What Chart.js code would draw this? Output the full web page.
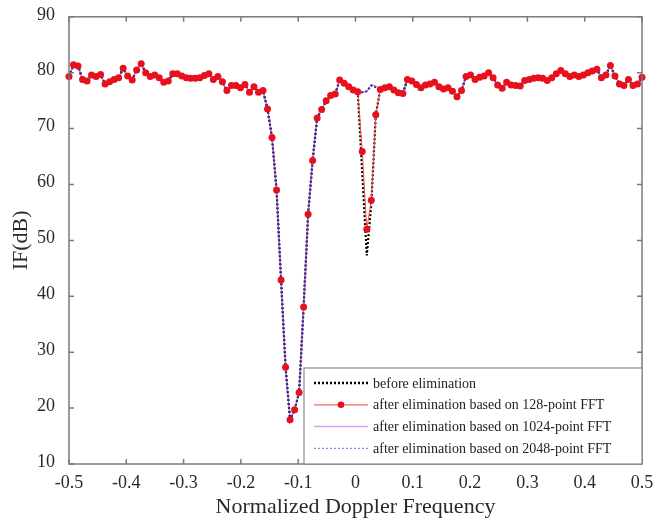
<!DOCTYPE html>
<html>
<head>
<meta charset="utf-8">
<script src="https://cdn.jsdelivr.net/npm/chart.js@4.4.1/dist/chart.umd.min.js"></script>
<style>
html, body { margin: 0; padding: 0; background: #fff; }
</style>
</head>
<body>
<canvas id="c" width="658" height="520"></canvas>
<script>
// 128 FFT bins across the normalized Doppler band
const N = 128;
const freq = Array.from({ length: N }, (_, i) => -0.5 + i / (N - 1));

// IF(dB) after elimination, 128-point FFT
const if128 = [
  79.3, 81.4, 81.2, 78.8, 78.5, 79.6, 79.3, 79.7, 78.0, 78.4,
  78.8, 79.1, 80.8, 79.4, 78.7, 80.5, 81.6, 80.0, 79.3, 79.6,
  79.1, 78.3, 78.5, 79.8, 79.8, 79.4, 79.1, 79.0, 79.0, 79.1,
  79.5, 79.8, 78.8, 79.3, 78.4, 76.8, 77.7, 77.7, 77.3, 77.9,
  76.5, 77.5, 76.5, 76.8, 73.5, 68.4, 59.0, 42.9, 27.3, 17.9,
  19.7, 22.8, 38.1, 54.7, 64.3, 71.9, 73.4, 75.0, 75.9, 76.2,
  78.7, 78.1, 77.5, 76.9, 76.6, 65.9, 52.0, 57.2, 72.5, 77.0,
  77.3, 77.5, 76.9, 76.4, 76.3, 78.8, 78.5, 77.9, 77.3, 77.8,
  78.0, 78.3, 77.5, 77.1, 77.3, 76.7, 75.7, 76.8, 79.3, 79.6,
  78.8, 79.2, 79.4, 80.0, 79.1, 77.8, 77.2, 78.3, 77.8, 77.7,
  77.6, 78.6, 78.8, 79.0, 79.1, 79.0, 78.6, 79.1, 79.8, 80.4,
  79.8, 79.3, 79.6, 79.3, 79.6, 80.0, 80.3, 80.6, 79.1, 79.6,
  81.3, 79.4, 78.0, 77.7, 78.8, 77.7, 78.0, 79.2
];

// the curves only differ around the small notch near 0.02
const notchIdx = [65, 66, 67, 68];
const beforeNotch = [62.0, 47.3, 56.5, 72.5];
const if1024Notch = [76.5, 76.6, 77.9, 77.6];
const if2048Notch = [76.5, 76.7, 77.7, 77.4];

const xTicks = [-0.5, -0.4, -0.3, -0.2, -0.1, 0, 0.1, 0.2, 0.3, 0.4, 0.5];
const yTicks = [10, 20, 30, 40, 50, 60, 70, 80, 90];
const legendLabels = [
  'before elimination',
  'after elimination based on 128-point FFT',
  'after elimination based on 1024-point FFT',
  'after elimination based on 2048-point FFT'
];

function withNotch(vals) {
  const out = if128.slice();
  notchIdx.forEach((k, j) => { out[k] = vals[j]; });
  return freq.map((f, i) => ({ x: f, y: out[i] }));
}
const pts128 = freq.map((f, i) => ({ x: f, y: if128[i] }));

const SERIF = '"Liberation Serif", "Times New Roman", serif';

const styles = [
  { color: '#000000', width: 2.2, dash: [2, 2], legendColor: '#000000', legendWidth: 2.5 },
  { color: '#f04848', width: 1, dash: [], marker: '#e8101c', legendColor: '#f06a6a', legendWidth: 1.2 },
  { color: '#c070f0', width: 1, dash: [], legendColor: '#d8a0f0', legendWidth: 1.5 },
  { color: '#2c2c96', width: 2, dash: [2, 2], legendColor: '#8c8ce8', legendWidth: 1.2 }
];

const framePlugin = {
  id: 'frame',
  afterDatasetsDraw(chart) {
    const { ctx, chartArea: a, scales: { x, y } } = chart;
    ctx.save();
    ctx.strokeStyle = '#7a7a7a';
    ctx.lineWidth = 1.5;
    ctx.strokeRect(a.left, a.top, a.right - a.left, a.bottom - a.top);
    ctx.beginPath();
    xTicks.forEach(v => {
      const px = x.getPixelForValue(v);
      ctx.moveTo(px, a.bottom); ctx.lineTo(px, a.bottom - 5);
      ctx.moveTo(px, a.top); ctx.lineTo(px, a.top + 5);
    });
    yTicks.forEach(v => {
      const py = y.getPixelForValue(v);
      ctx.moveTo(a.left, py); ctx.lineTo(a.left + 5, py);
      ctx.moveTo(a.right, py); ctx.lineTo(a.right - 5, py);
    });
    ctx.stroke();

    // legend box, bottom right inside the axes
    const w = 338, h = 96;
    const lx = a.right - w, ly = a.bottom - h;
    ctx.fillStyle = '#fff';
    ctx.fillRect(lx, ly, w, h);
    ctx.strokeStyle = '#8a8a8a';
    ctx.lineWidth = 1.2;
    ctx.strokeRect(lx, ly, w, h);
    ctx.font = '14px ' + SERIF;
    ctx.textBaseline = 'middle';
    legendLabels.forEach((txt, k) => {
      const s = styles[k];
      const yy = ly + 15 + k * 21.8;
      ctx.beginPath();
      ctx.setLineDash(s.dash);
      ctx.strokeStyle = s.legendColor;
      ctx.lineWidth = s.legendWidth;
      ctx.moveTo(lx + 10, yy);
      ctx.lineTo(lx + 64, yy);
      ctx.stroke();
      ctx.setLineDash([]);
      if (s.marker) {
        ctx.beginPath();
        ctx.fillStyle = s.marker;
        ctx.arc(lx + 37, yy, 3.3, 0, Math.PI * 2);
        ctx.fill();
      }
      ctx.fillStyle = '#222';
      ctx.fillText(txt, lx + 69, yy + 1);
    });
    ctx.restore();
  }
};

new Chart(document.getElementById('c'), {
  type: 'scatter',
  data: {
    datasets: [
      { label: legendLabels[0], data: withNotch(beforeNotch), showLine: true, pointRadius: 0,
        borderColor: styles[0].color, borderWidth: styles[0].width, borderDash: styles[0].dash, order: 4, clip: false },
      { label: legendLabels[1], data: pts128, showLine: true, pointRadius: 0,
        borderColor: styles[1].color, borderWidth: styles[1].width, order: 3, clip: false },
      { label: legendLabels[2], data: withNotch(if1024Notch), showLine: true, pointRadius: 0,
        borderColor: styles[2].color, borderWidth: styles[2].width, order: 2, clip: false },
      { label: legendLabels[3], data: withNotch(if2048Notch), showLine: true, pointRadius: 0,
        borderColor: styles[3].color, borderWidth: styles[3].width, borderDash: styles[3].dash, order: 1, clip: false },
      { label: 'markers', data: pts128, showLine: false, pointRadius: 3.5,
        pointBackgroundColor: styles[1].marker, pointBorderColor: styles[1].marker, pointBorderWidth: 0, order: 0, clip: false }
    ]
  },
  options: {
    responsive: false,
    devicePixelRatio: 1,
    animation: false,
    layout: { padding: { top: 12, right: 16, left: 8, bottom: 0 } },
    plugins: { legend: { display: false }, tooltip: { enabled: false } },
    scales: {
      x: {
        type: 'linear', min: -0.5, max: 0.5,
        afterBuildTicks: s => { s.ticks = xTicks.map(v => ({ value: v })); },
        afterFit: s => { s.height = 56; },
        grid: { display: false },
        border: { display: false },
        ticks: { color: '#2a2a2a', padding: 0, maxRotation: 0, autoSkip: false,
          font: { family: SERIF, size: 18 }, callback: v => String(Math.round(v * 10) / 10) },
        title: { display: true, text: 'Normalized Doppler Frequency', color: '#2a2a2a',
          font: { family: SERIF, size: 22 }, padding: { top: 8, bottom: 0 } }
      },
      y: {
        type: 'linear', min: 10, max: 90,
        afterBuildTicks: s => { s.ticks = yTicks.map(v => ({ value: v })); },
        afterFit: s => { s.width = 61; },
        grid: { display: false },
        border: { display: false },
        ticks: { color: '#2a2a2a', padding: 6, labelOffset: -2, autoSkip: false, font: { family: SERIF, size: 18 } },
        title: { display: true, text: 'IF(dB)', color: '#2a2a2a',
          font: { family: SERIF, size: 22 }, padding: { top: 0, bottom: 0 } }
      }
    }
  },
  plugins: [framePlugin]
});
</script>
</body>
</html>
